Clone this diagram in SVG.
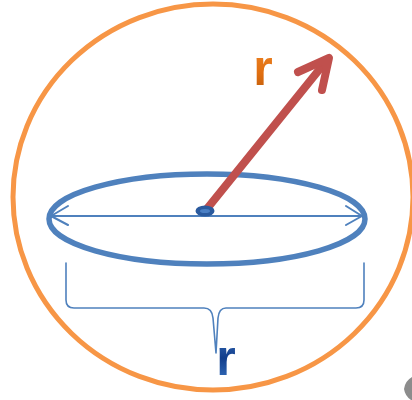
<svg xmlns="http://www.w3.org/2000/svg" width="412" height="400" viewBox="0 0 412 400">
<style>
.blue{fill:none;stroke:#4f81bd;stroke-linecap:round;stroke-linejoin:round}
.lbl{font-family:"Liberation Sans",Arial,sans-serif;font-weight:bold;font-size:50px;text-anchor:middle}
</style>
<defs>
<linearGradient id="gb" x1="0" y1="0" x2="0" y2="1">
<stop offset="0" stop-color="#3d74c0"/><stop offset="0.5" stop-color="#123e8c"/><stop offset="1" stop-color="#3c78c6"/>
</linearGradient>
<linearGradient id="go" x1="0" y1="0" x2="0" y2="1">
<stop offset="0" stop-color="#f08a2a"/><stop offset="0.6" stop-color="#e06e10"/><stop offset="1" stop-color="#b85a0c"/>
</linearGradient>
</defs>
<rect width="412" height="400" fill="#ffffff"/>
<g id="sphere">
<ellipse cx="213" cy="197" rx="200" ry="193" fill="none" stroke="#f79646" stroke-width="5"/>
</g>
<g id="disc">
<ellipse cx="207" cy="219" rx="158" ry="45" class="blue" stroke-width="5.5"/>
</g>
<g id="connectors">
<g id="diameter">
<line x1="51" y1="216" x2="362" y2="216" class="blue" stroke-width="2"/>
<polyline points="68,206 51,216 68,225" class="blue" stroke-width="2"/>
<polyline points="346,206 362,216 346,225" class="blue" stroke-width="2"/>
</g>
<g id="brace">
<path d="M66,263 V300 Q66,308 74,308 H204 Q212,308 213,318 L216,353 L218,318 Q219,308 226,308 H356 Q364,308 364,300 V263" class="blue" stroke-width="1.6"/>
</g>
<g id="radius">
<line x1="206" y1="210" x2="327" y2="60" stroke="#c0504d" stroke-width="8" stroke-linecap="round"/>
<polyline points="298,72 329,58 322,90" fill="none" stroke="#c0504d" stroke-width="8" stroke-linecap="round" stroke-linejoin="round"/>
</g>
</g>
<g id="center">
<ellipse cx="205" cy="211" rx="9.5" ry="5.5" fill="#2a5a9e"/>
<ellipse cx="205" cy="211" rx="5" ry="2" fill="#4a7fc4"/>
</g>
<g id="label-radius">
<text x="263" y="85" class="lbl" fill="url(#go)">r</text>
</g>
<g id="label-diameter">
<text x="226" y="375" class="lbl" fill="url(#gb)">r</text>
</g>
<path d="M412,377 Q405,381 404,389 Q405,396 411,400 H412 Z" fill="#8c8c8c"/>
</svg>
